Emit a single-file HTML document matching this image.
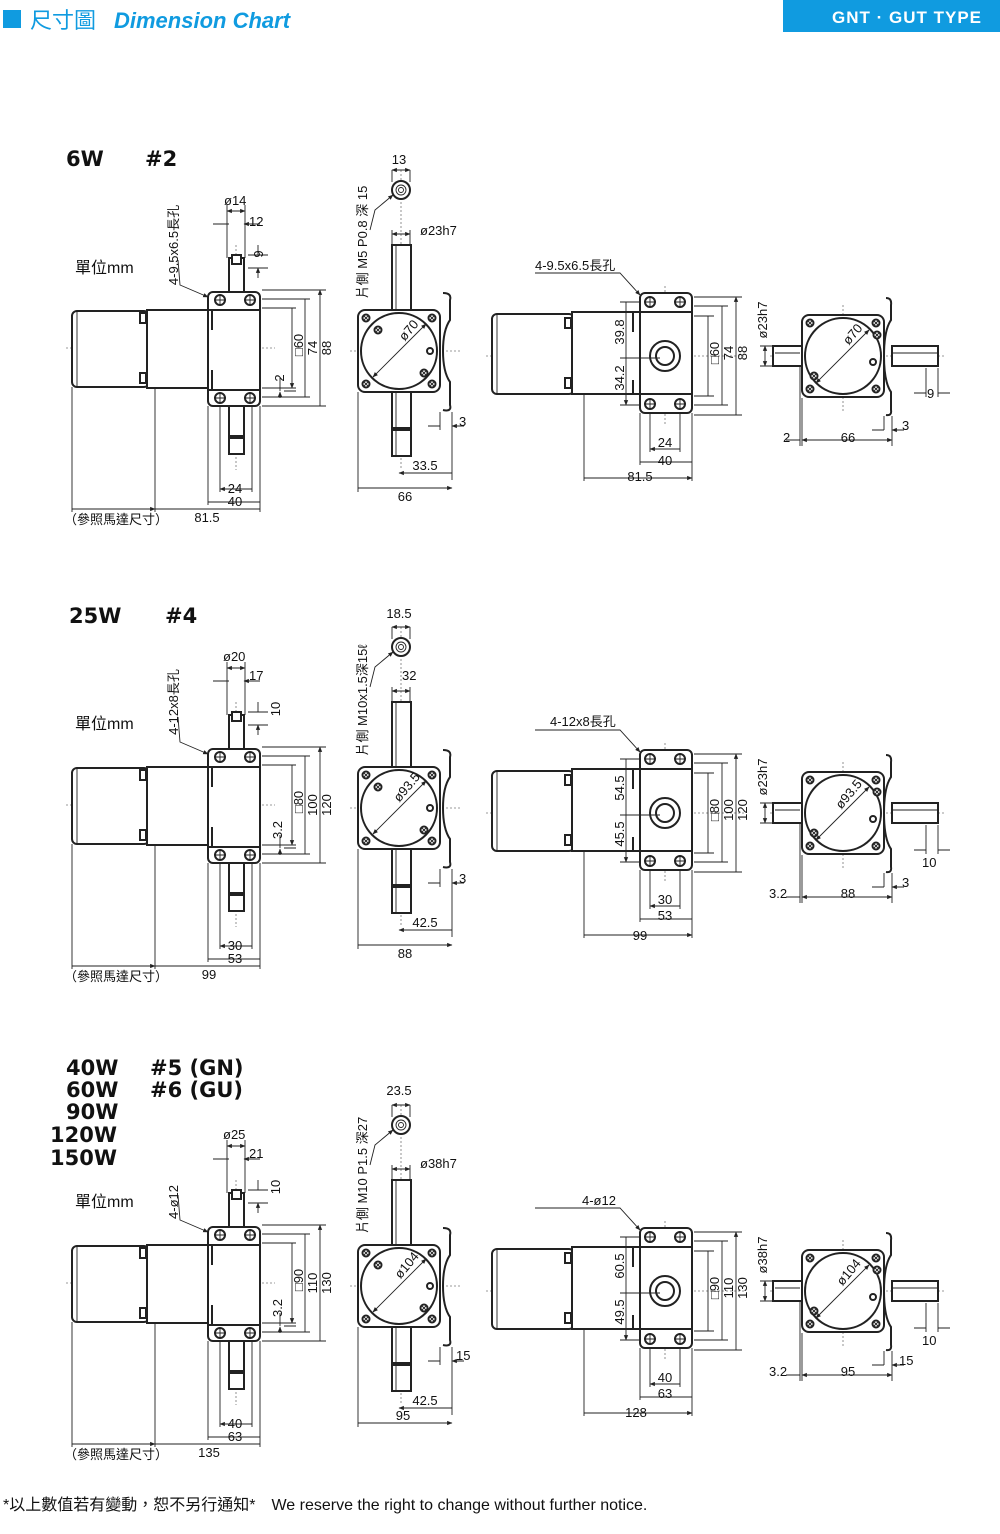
<!DOCTYPE html>
<html><head><meta charset="utf-8"><style>
html,body{margin:0;padding:0;background:#fff}
svg{display:block}
text{font-family:"Liberation Sans","Noto Sans CJK TC",sans-serif;fill:#111}
.s{fill:none;stroke:#222;stroke-width:2}
.f{fill:#fff;stroke:#222;stroke-width:2}
.d{fill:none;stroke:#222;stroke-width:.9}
.c{fill:none;stroke:#777;stroke-width:.8;stroke-dasharray:2 2}
.da{fill:none;stroke:#222;stroke-width:.9;marker-start:url(#a);marker-end:url(#a)}
.t{font-size:13px}
.h{font-family:"DejaVu Sans","Liberation Sans",sans-serif;font-weight:bold;font-size:21px}
</style></head><body>
<svg width="1000" height="1534" viewBox="0 0 1000 1534" xmlns="http://www.w3.org/2000/svg">
<defs>
<marker id="a" viewBox="0 0 10 10" refX="9" refY="5" markerWidth="6" markerHeight="6" orient="auto-start-reverse"><path d="M0,1 L10,5 L0,9z" fill="#222"/></marker>
<g id="hole"><circle r="5" class="f"/><path d="M-5,0H5M0,-5V5" class="d"/></g>
<g id="sq"><circle r="3.5" class="f"/><path d="M-2.5,-2.5L2.5,2.5M2.5,-2.5L-2.5,2.5" class="d"/></g>
<g id="s1">
<!-- View A -->
<path d="M66,348H275M236,245V470" class="c"/>
<rect x="72" y="311" width="77" height="76" rx="5" class="f"/><path d="M77,312V386" class="d"/>
<rect x="140" y="313" width="6" height="10" class="f"/><rect x="140" y="373" width="6" height="10" class="f"/>
<rect x="147" y="310" width="61" height="78" class="f"/>
<rect x="229" y="258" width="15" height="36" class="f"/><rect x="232" y="255" width="9" height="9" class="f"/>
<rect x="229" y="403" width="15" height="33" class="f"/><rect x="229" y="438" width="15" height="16" class="f"/>
<rect x="208" y="292" width="52" height="114" rx="5" class="f"/>
<path d="M208,310H260M208,390H260M212,310V330M212,370V390" class="s"/>
<use href="#hole" x="220" y="300"/><use href="#hole" x="250" y="300"/><use href="#hole" x="220" y="398"/><use href="#hole" x="250" y="398"/>
<path d="M262,290H326M262,299H310M262,308H296M262,388H296M262,397H310M262,406H326M284,391H296" class="d"/>
<path d="M320,290V406M305,299V397M292,308V388" class="da"/>
<path d="M280,378V391M280,398V392" class="d" marker-end="url(#a)"/>
<path d="M220,406V492M252,406V492M208,406V505M260,406V512M155,387V512M72,387V512" class="d"/>
<path d="M220,489H252M208,502H260M155,509H260M72,509H155" class="da"/>
<path d="M227,205V258M245,205V258" class="d"/><path d="M227,211H245" class="da"/>
<path d="M213,224H229M260,224H244" class="d" marker-end="url(#a)"/>
<path d="M248,255H268M248,268H268" class="d"/><path d="M258,245V255M258,278V268" class="d" marker-end="url(#a)"/>
<path d="M178,260L180,285L208,297" class="d" marker-end="url(#a)"/>
<!-- View B -->
<path d="M401,170V470M350,351H460" class="c"/>
<circle cx="401" cy="190" r="9" class="f"/><circle cx="401" cy="190" r="5" class="d"/><circle cx="401" cy="190" r="2.5" class="d"/>
<path d="M392,170V182M410,170V182" class="d"/><path d="M392,170H410" class="da"/>
<path d="M370,230L375,210L393,195" class="d" marker-end="url(#a)"/>
<rect x="392" y="245" width="19" height="66" class="f"/><path d="M396,246V310" class="d"/>
<rect x="392" y="392" width="19" height="36" class="f"/><rect x="392" y="430" width="19" height="26" class="f"/><path d="M396,393V455" class="d"/>
<path d="M392,234H410" class="da"/><path d="M392,230V245M410,230V245" class="d"/>
<path d="M443,293Q452,293 450,300V320Q443,330 443,351Q443,372 450,382V405Q452,412 443,410" class="f"/>
<rect x="358" y="310" width="82" height="82" rx="7" class="f"/>
<circle cx="399" cy="351" r="38" class="f"/>
<path d="M373,377L426,324" class="da"/>
<use href="#sq" x="366" y="318"/><use href="#sq" x="432" y="318"/><use href="#sq" x="366" y="384"/><use href="#sq" x="432" y="384"/>
<use href="#sq" x="378" y="330"/><use href="#sq" x="424" y="373"/><circle cx="430" cy="351" r="3" class="f"/>
<path d="M452,412V480M358,392V492M440,412V430" class="d"/>
<path d="M399,473H452M358,488H452" class="da"/>
<path d="M428,426H440M464,426H452" class="d" marker-end="url(#a)"/>
<!-- View C -->
<path d="M486,356H745M665,286V425" class="c"/>
<rect x="492" y="314" width="82" height="80" rx="5" class="f"/><path d="M497,315V393" class="d"/>
<rect x="565" y="318" width="6" height="10" class="f"/><rect x="565" y="378" width="6" height="10" class="f"/>
<rect x="572" y="312" width="68" height="82" class="f"/>
<path d="M633,312V332M633,380V394" class="s"/>
<rect x="640" y="293" width="52" height="120" rx="5" class="f"/>
<path d="M640,312H692M640,394H692" class="s"/>
<use href="#hole" x="650" y="302"/><use href="#hole" x="680" y="302"/><use href="#hole" x="650" y="404"/><use href="#hole" x="680" y="404"/>
<circle cx="665" cy="356" r="15" class="f"/><circle cx="665" cy="356" r="9" class="f"/>
<path d="M694,297H742M694,306H728M694,316H714M694,396H714M694,405H728M694,415H742M620,302H640M620,358H660M620,405H640" class="d"/>
<path d="M736,297V415M722,306V405M708,316V396M626,302V358M626,358V405" class="da"/>
<path d="M650,413V452M680,413V452M640,413V465M692,413V481M584,394V481" class="d"/>
<path d="M650,449H680M640,462H692M584,478H692" class="da"/>
<path d="M535,273H620L640,295" class="d" marker-end="url(#a)"/>
<!-- View D -->
<path d="M770,356H945M843,305V412" class="c"/>
<rect x="773" y="346" width="30" height="20" class="f"/><rect x="892" y="346" width="46" height="20" class="f"/>
<path d="M892,353H938M775,353H800" class="d"/>
<path d="M886,298Q892,298 891,305V320Q884,330 884,356Q884,382 891,392V410Q892,416 886,415" class="f"/>
<rect x="802" y="315" width="82" height="82" rx="7" class="f"/>
<circle cx="843" cy="356" r="38" class="f"/>
<path d="M816,383L869,330" class="da"/>
<use href="#sq" x="810" y="323"/><use href="#sq" x="876" y="323"/><use href="#sq" x="810" y="389"/><use href="#sq" x="876" y="389"/>
<use href="#sq" x="877" y="335"/><use href="#sq" x="814" y="376"/><circle cx="873" cy="362" r="3" class="f"/>
<path d="M760,346H772M760,366H772" class="d"/><path d="M765,346V366" class="da"/>
<path d="M802,398V446M892,416V446M800,366V446M884,416V430M926,368V397M938,368V397" class="d"/>
<path d="M802,440H892" class="da"/>
<path d="M786,440H800M914,393H926M950,393H938M872,430H884M904,430H892" class="d" marker-end="url(#a)"/>
</g>
</defs>

<!-- header -->
<rect x="3" y="10" width="18" height="18" fill="#109be0"/>
<text x="30" y="28" style="font-size:22px;fill:#109be0;font-family:'Liberation Sans','Noto Sans CJK TC',sans-serif">尺寸圖</text>
<text x="114" y="28" style="font-size:22px;fill:#109be0;font-style:italic;font-weight:bold">Dimension Chart</text>
<rect x="783" y="0" width="217" height="32" fill="#109be0"/>
<text x="907" y="23" text-anchor="middle" style="font-size:17px;fill:#fff;font-weight:bold;letter-spacing:1px">GNT · GUT TYPE</text>

<use href="#s1"/>
<use href="#s1" transform="translate(0,457)"/>
<use href="#s1" transform="translate(0,935)"/>

<!-- Section 1 labels -->
<text x="66" y="166" class="h">6W</text><text x="145" y="166" class="h">#2</text>
<text x="75" y="273" style="font-size:16px">單位mm</text>
<g class="t">
<text transform="translate(178,245) rotate(-90)" text-anchor="middle">4-9.5x6.5長孔</text>
<text x="224" y="205">ø14</text><text x="249" y="226">12</text>
<text transform="translate(263,254) rotate(-90)" text-anchor="middle">9</text>
<text transform="translate(303,345) rotate(-90)" text-anchor="middle">□60</text>
<text transform="translate(317,348) rotate(-90)" text-anchor="middle">74</text>
<text transform="translate(331,348) rotate(-90)" text-anchor="middle">88</text>
<text transform="translate(284,378) rotate(-90)" text-anchor="middle">2</text>
<text x="235" y="493" text-anchor="middle">24</text><text x="235" y="506" text-anchor="middle">40</text>
<text x="207" y="522" text-anchor="middle">81.5</text>
<text x="64" y="524">（參照馬達尺寸）</text>
<text x="399" y="164" text-anchor="middle">13</text>
<text transform="translate(367,242) rotate(-90)" text-anchor="middle">片側 M5 P0.8 深 15</text>
<text x="420" y="235">ø23h7</text>
<text transform="translate(412,333) rotate(-50)" text-anchor="middle">ø70</text>
<text x="459" y="426">3</text><text x="425" y="470" text-anchor="middle">33.5</text><text x="405" y="501" text-anchor="middle">66</text>
<text x="535" y="270">4-9.5x6.5長孔</text>
<text transform="translate(624,332) rotate(-90)" text-anchor="middle">39.8</text>
<text transform="translate(624,378) rotate(-90)" text-anchor="middle">34.2</text>
<text transform="translate(719,353) rotate(-90)" text-anchor="middle">□60</text>
<text transform="translate(733,353) rotate(-90)" text-anchor="middle">74</text>
<text transform="translate(747,353) rotate(-90)" text-anchor="middle">88</text>
<text x="665" y="447" text-anchor="middle">24</text><text x="665" y="465" text-anchor="middle">40</text><text x="640" y="481" text-anchor="middle">81.5</text>
<text transform="translate(767,320) rotate(-90)" text-anchor="middle">ø23h7</text>
<text transform="translate(856,337) rotate(-50)" text-anchor="middle">ø70</text>
<text x="927" y="398">9</text><text x="902" y="430">3</text><text x="783" y="442">2</text><text x="848" y="442" text-anchor="middle">66</text>

<!-- Section 2 labels -->
<text x="69" y="623" class="h" style="font-size:21px">25W</text><text x="165" y="623" class="h">#4</text>
<text x="75" y="729" style="font-size:16px">單位mm</text>
<text transform="translate(178,702) rotate(-90)" text-anchor="middle">4-12x8長孔</text>
<text x="223" y="661">ø20</text><text x="249" y="680">17</text>
<text transform="translate(280,709) rotate(-90)" text-anchor="middle">10</text>
<text transform="translate(303,802) rotate(-90)" text-anchor="middle">□80</text>
<text transform="translate(317,805) rotate(-90)" text-anchor="middle">100</text>
<text transform="translate(331,805) rotate(-90)" text-anchor="middle">120</text>
<text transform="translate(282,830) rotate(-90)" text-anchor="middle">3.2</text>
<text x="235" y="950" text-anchor="middle">30</text><text x="235" y="963" text-anchor="middle">53</text>
<text x="209" y="979" text-anchor="middle">99</text>
<text x="64" y="981">（參照馬達尺寸）</text>
<text x="399" y="618" text-anchor="middle">18.5</text>
<text transform="translate(367,700) rotate(-90)" text-anchor="middle">片側 M10x1.5深15ℓ</text>
<text x="402" y="680">32</text>
<text transform="translate(410,790) rotate(-50)" text-anchor="middle">ø93.5</text>
<text x="459" y="883">3</text><text x="425" y="927" text-anchor="middle">42.5</text><text x="405" y="958" text-anchor="middle">88</text>
<text x="550" y="726">4-12x8長孔</text>
<text transform="translate(624,788) rotate(-90)" text-anchor="middle">54.5</text>
<text transform="translate(624,834) rotate(-90)" text-anchor="middle">45.5</text>
<text transform="translate(719,810) rotate(-90)" text-anchor="middle">□80</text>
<text transform="translate(733,810) rotate(-90)" text-anchor="middle">100</text>
<text transform="translate(747,810) rotate(-90)" text-anchor="middle">120</text>
<text x="665" y="904" text-anchor="middle">30</text><text x="665" y="920" text-anchor="middle">53</text><text x="640" y="940" text-anchor="middle">99</text>
<text transform="translate(767,777) rotate(-90)" text-anchor="middle">ø23h7</text>
<text transform="translate(852,797) rotate(-50)" text-anchor="middle">ø93.5</text>
<text x="922" y="867">10</text><text x="902" y="887">3</text><text x="769" y="898">3.2</text><text x="848" y="898" text-anchor="middle">88</text>

<!-- Section 3 labels -->
<text x="66" y="1075" class="h">40W</text><text x="150" y="1075" class="h">#5 (GN)</text>
<text x="66" y="1097" class="h">60W</text><text x="150" y="1097" class="h">#6 (GU)</text>
<text x="66" y="1119" class="h">90W</text>
<text x="50" y="1142" class="h">120W</text>
<text x="50" y="1165" class="h">150W</text>
<text x="75" y="1207" style="font-size:16px">單位mm</text>
<text transform="translate(178,1202) rotate(-90)" text-anchor="middle">4-ø12</text>
<text x="223" y="1139">ø25</text><text x="249" y="1158">21</text>
<text transform="translate(280,1187) rotate(-90)" text-anchor="middle">10</text>
<text transform="translate(303,1280) rotate(-90)" text-anchor="middle">□90</text>
<text transform="translate(317,1283) rotate(-90)" text-anchor="middle">110</text>
<text transform="translate(331,1283) rotate(-90)" text-anchor="middle">130</text>
<text transform="translate(282,1308) rotate(-90)" text-anchor="middle">3.2</text>
<text x="235" y="1428" text-anchor="middle">40</text><text x="235" y="1441" text-anchor="middle">63</text>
<text x="209" y="1457" text-anchor="middle">135</text>
<text x="64" y="1459">（參照馬達尺寸）</text>
<text x="399" y="1095" text-anchor="middle">23.5</text>
<text transform="translate(367,1175) rotate(-90)" text-anchor="middle">片側 M10 P1.5 深27</text>
<text x="420" y="1168">ø38h7</text>
<text transform="translate(410,1268) rotate(-50)" text-anchor="middle">ø104</text>
<text x="456" y="1360">15</text><text x="425" y="1405" text-anchor="middle">42.5</text><text x="403" y="1420" text-anchor="middle">95</text>
<text x="582" y="1205">4-ø12</text>
<text transform="translate(624,1266) rotate(-90)" text-anchor="middle">60.5</text>
<text transform="translate(624,1312) rotate(-90)" text-anchor="middle">49.5</text>
<text transform="translate(719,1288) rotate(-90)" text-anchor="middle">□90</text>
<text transform="translate(733,1288) rotate(-90)" text-anchor="middle">110</text>
<text transform="translate(747,1288) rotate(-90)" text-anchor="middle">130</text>
<text x="665" y="1382" text-anchor="middle">40</text><text x="665" y="1398" text-anchor="middle">63</text><text x="636" y="1417" text-anchor="middle">128</text>
<text transform="translate(767,1255) rotate(-90)" text-anchor="middle">ø38h7</text>
<text transform="translate(852,1275) rotate(-50)" text-anchor="middle">ø104</text>
<text x="922" y="1345">10</text><text x="899" y="1365">15</text><text x="769" y="1376">3.2</text><text x="848" y="1376" text-anchor="middle">95</text>
</g>

<text x="3" y="1510" style="font-size:16px">*以上數值若有變動，恕不另行通知*　We reserve the right to change without further notice.</text>
</svg>
</body></html>
